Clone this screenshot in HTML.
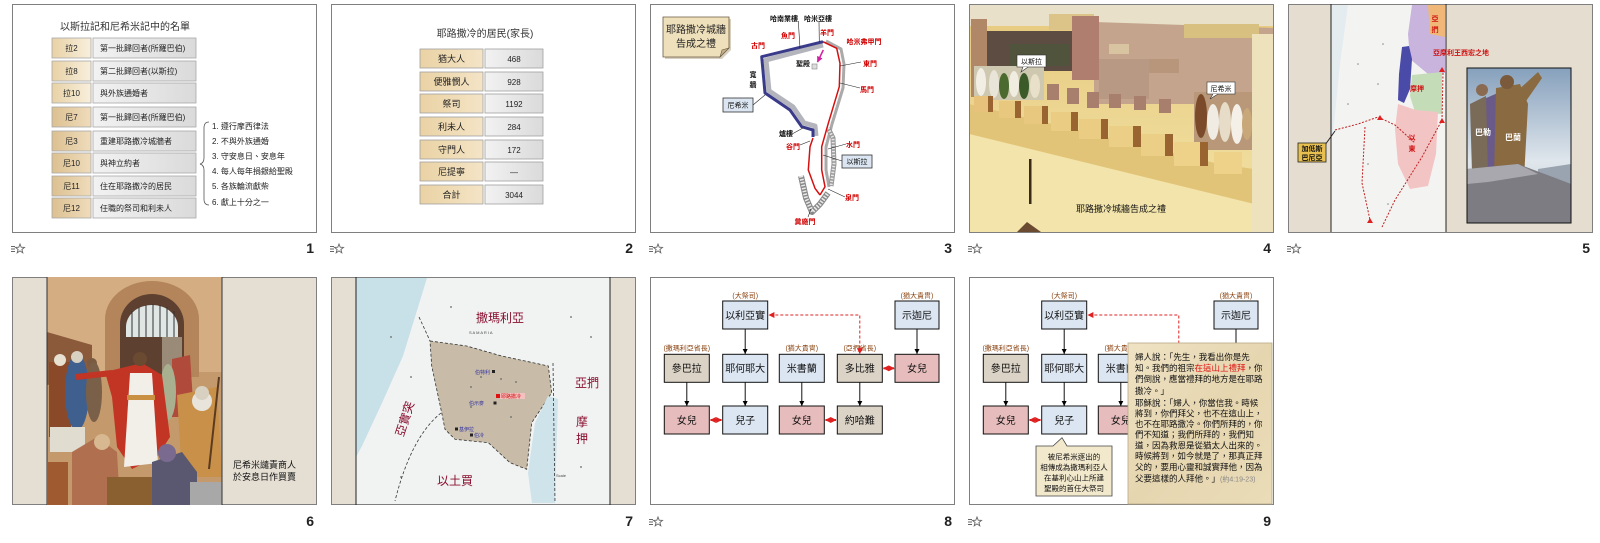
<!DOCTYPE html>
<html><head><meta charset="utf-8">
<style>
html,body{margin:0;padding:0;background:#fff;}
svg{display:block;}
text{font-family:"Liberation Sans","Noto Sans CJK TC",sans-serif;}
.num{font-family:"Liberation Sans",sans-serif;font-weight:bold;font-size:14px;fill:#222;}
</style></head>
<body>
<svg width="1600" height="543" viewBox="0 0 1600 543" xmlns="http://www.w3.org/2000/svg">
<defs>
<linearGradient id="gL1" x1="0" y1="0" x2="1" y2="0"><stop offset="0" stop-color="#e8d2a6"/><stop offset="1" stop-color="#f8efdc"/></linearGradient>
<linearGradient id="gL2" x1="0" y1="0" x2="1" y2="0"><stop offset="0" stop-color="#dcc090"/><stop offset="1" stop-color="#efdcbc"/></linearGradient>
<linearGradient id="gR" x1="0" y1="0" x2="1" y2="0"><stop offset="0" stop-color="#f2f2f2"/><stop offset="1" stop-color="#dadada"/></linearGradient>
<linearGradient id="gT" x1="0" y1="0" x2="1" y2="0"><stop offset="0" stop-color="#ead2a4"/><stop offset="1" stop-color="#f4e4c6"/></linearGradient>
<linearGradient id="sky5" x1="0" y1="0" x2="0" y2="1"><stop offset="0" stop-color="#86a0bc"/><stop offset="0.6" stop-color="#dfe6ec"/><stop offset="1" stop-color="#c8ccd0"/></linearGradient>
<linearGradient id="wall4" x1="0" y1="0" x2="0" y2="1"><stop offset="0" stop-color="#e6c97e"/><stop offset="1" stop-color="#f3e4a8"/></linearGradient>
<linearGradient id="parch" x1="0" y1="0" x2="1" y2="1"><stop offset="0" stop-color="#efe3c4"/><stop offset="0.5" stop-color="#e6d6b0"/><stop offset="1" stop-color="#eadcb8"/></linearGradient>
<marker id="ab" viewBox="0 0 10 10" refX="10" refY="5" markerWidth="5" markerHeight="5" orient="auto"><path d="M0,0 L10,5 L0,10 z" fill="#000"/></marker>
<marker id="ar" viewBox="0 0 10 10" refX="9" refY="5" markerWidth="3" markerHeight="3" orient="auto-start-reverse"><path d="M0,0 L10,5 L0,10 z" fill="#e02020"/></marker>
<marker id="ard" viewBox="0 0 10 10" refX="9" refY="5" markerWidth="6" markerHeight="6" orient="auto-start-reverse"><path d="M0,0 L10,5 L0,10 z" fill="#e02020"/></marker>
<marker id="ap" viewBox="0 0 10 10" refX="9" refY="5" markerWidth="4" markerHeight="4" orient="auto"><path d="M0,0 L10,5 L0,10 z" fill="#d020a0"/></marker>
<g id="star"><path d="M0,2.5 H4 M0,5 H4 M0,7.5 H4" stroke="#666" stroke-width="1"/><polygon points="9,0 10.2,3.2 13.5,3.4 10.9,5.5 11.8,8.8 9,6.9 6.2,8.8 7.1,5.5 4.5,3.4 7.8,3.2" fill="none" stroke="#666" stroke-width="0.9"/></g>
<clipPath id="c6"><rect x="35" y="0" width="175" height="228"/></clipPath>
<clipPath id="c5"><rect x="179" y="64" width="104" height="155"/></clipPath>
<clipPath id="cs"><rect x="0" y="0" width="305" height="228"/></clipPath>
</defs>

<!-- ================= SLIDE 1 ================= -->
<g transform="translate(12,4)">
<rect x="0.5" y="0.5" width="304" height="228" fill="#fff" stroke="#7f7f7f"/>
<text x="113" y="26" font-size="10" text-anchor="middle" fill="#333">以斯拉記和尼希米記中的名單</text>
<g stroke="#a8a8a8" stroke-width="0.8" font-size="8" fill="#222">
<rect x="40" y="34" width="39" height="20" fill="url(#gL1)"/><rect x="81" y="34" width="103" height="20" fill="url(#gR)"/>
<rect x="40" y="57" width="39" height="20" fill="url(#gL1)"/><rect x="81" y="57" width="103" height="20" fill="url(#gR)"/>
<rect x="40" y="79" width="39" height="20" fill="url(#gL1)"/><rect x="81" y="79" width="103" height="20" fill="url(#gR)"/>
<rect x="40" y="103" width="39" height="20" fill="url(#gL2)"/><rect x="81" y="103" width="103" height="20" fill="url(#gR)"/>
<rect x="40" y="127" width="39" height="20" fill="url(#gL2)"/><rect x="81" y="127" width="103" height="20" fill="url(#gR)"/>
<rect x="40" y="149" width="39" height="20" fill="url(#gL2)"/><rect x="81" y="149" width="103" height="20" fill="url(#gR)"/>
<rect x="40" y="172" width="39" height="20" fill="url(#gL2)"/><rect x="81" y="172" width="103" height="20" fill="url(#gR)"/>
<rect x="40" y="194" width="39" height="20" fill="url(#gL2)"/><rect x="81" y="194" width="103" height="20" fill="url(#gR)"/>
</g>
<g font-size="8" fill="#222">
<g text-anchor="middle">
<text x="59.5" y="47">拉2</text><text x="59.5" y="70">拉8</text><text x="59.5" y="92">拉10</text><text x="59.5" y="116">尼7</text>
<text x="59.5" y="140">尼3</text><text x="59.5" y="162">尼10</text><text x="59.5" y="185">尼11</text><text x="59.5" y="207">尼12</text>
</g>
<text x="88" y="47">第一批歸回者(所羅巴伯)</text>
<text x="88" y="70">第二批歸回者(以斯拉)</text>
<text x="88" y="92">與外族通婚者</text>
<text x="88" y="116">第一批歸回者(所羅巴伯)</text>
<text x="88" y="140">重建耶路撒冷城牆者</text>
<text x="88" y="162">與神立約者</text>
<text x="88" y="185">住在耶路撒冷的居民</text>
<text x="88" y="207">任職的祭司和利未人</text>
</g>
<path d="M197,118 Q192,118 192,124 L192,154 Q192,159 188,160 Q192,161 192,166 L192,195 Q192,201 197,201" stroke="#555" stroke-width="0.8" fill="none"/>
<g font-size="8" fill="#222">
<text x="200" y="125">1.  遵行摩西律法</text>
<text x="200" y="140">2.  不與外族通婚</text>
<text x="200" y="155">3.  守安息日、安息年</text>
<text x="200" y="170">4.  每人每年捐銀給聖殿</text>
<text x="200" y="185">5.  各族輪流獻柴</text>
<text x="200" y="201">6.  獻上十分之一</text>
</g>
</g>
<use href="#star" x="11" y="244"/>
<text class="num" x="314" y="253" text-anchor="end">1</text>

<!-- ================= SLIDE 2 ================= -->
<g transform="translate(331,4)">
<rect x="0.5" y="0.5" width="304" height="228" fill="#fff" stroke="#7f7f7f"/>
<text x="154" y="33" font-size="10" text-anchor="middle" fill="#333">耶路撒冷的居民(家長)</text>
<g stroke="#a0a0a0" stroke-width="0.8">
<rect x="89" y="45" width="63" height="19" fill="url(#gT)"/><rect x="154" y="45" width="58" height="19" fill="url(#gR)"/>
<rect x="89" y="68" width="63" height="19" fill="url(#gT)"/><rect x="154" y="68" width="58" height="19" fill="url(#gR)"/>
<rect x="89" y="90" width="63" height="19" fill="url(#gT)"/><rect x="154" y="90" width="58" height="19" fill="url(#gR)"/>
<rect x="89" y="113" width="63" height="19" fill="url(#gT)"/><rect x="154" y="113" width="58" height="19" fill="url(#gR)"/>
<rect x="89" y="136" width="63" height="19" fill="url(#gT)"/><rect x="154" y="136" width="58" height="19" fill="url(#gR)"/>
<rect x="89" y="158" width="63" height="19" fill="url(#gT)"/><rect x="154" y="158" width="58" height="19" fill="url(#gR)"/>
<rect x="89" y="181" width="63" height="19" fill="url(#gT)"/><rect x="154" y="181" width="58" height="19" fill="url(#gR)"/>
</g>
<g font-size="9" fill="#222" text-anchor="middle">
<text x="120.5" y="58">猶大人</text><text x="183" y="58" font-size="8">468</text>
<text x="120.5" y="81">便雅憫人</text><text x="183" y="81" font-size="8">928</text>
<text x="120.5" y="103">祭司</text><text x="183" y="103" font-size="8">1192</text>
<text x="120.5" y="126">利未人</text><text x="183" y="126" font-size="8">284</text>
<text x="120.5" y="149">守門人</text><text x="183" y="149" font-size="8">172</text>
<text x="120.5" y="171">尼提寧</text><text x="183" y="171" font-size="8">—</text>
<text x="120.5" y="194">合計</text><text x="183" y="194" font-size="8">3044</text>
</g>
</g>
<use href="#star" x="330" y="244"/>
<text class="num" x="633" y="253" text-anchor="end">2</text>

<!-- ================= SLIDE 3 ================= -->
<g transform="translate(650,4)">
<rect x="0.5" y="0.5" width="304" height="228" fill="#fff" stroke="#7f7f7f"/>
<path d="M15,15 H81 V46 L72,55 H15 Z" fill="#b0a080" opacity="0.5"/>
<path d="M13,13 H79 V44 L70,53 H13 Z" fill="#efe0bc" stroke="#6a5a40" stroke-width="0.8"/>
<path d="M70,53 L72,46 L79,44 Z" fill="#c4b088" stroke="#6a5a40" stroke-width="0.6"/>
<text x="46" y="29" font-size="10" text-anchor="middle" fill="#222">耶路撒冷城牆</text>
<text x="46" y="43" font-size="10" text-anchor="middle" fill="#222">告成之禮</text>
<!-- gray bands -->
<g fill="none" stroke-linejoin="round">
<path d="M173,41 L116,56 L119,87 L143,103 L154,119 L165,122 L166,132" stroke="#b4b4bc" stroke-width="5"/>
<path d="M176,37 L191,45 L194,60 L193,84 L182,120 L176,143 L176,166 L179,183" stroke="#aaa" stroke-width="3"/>
<path d="M178,124 L183,134 L184,160 L181,182" stroke="#999" stroke-width="5"/>
<path d="M178,124 L183,134 L184,160 L181,182" stroke="#e6e6e6" stroke-width="3" stroke-dasharray="1.5 1.5"/>
<path d="M151,172 L156,194 L162,208 L170,200 L178,189" stroke="#888" stroke-width="6"/>
<path d="M151,172 L156,194 L162,208 L170,200 L178,189" stroke="#eaeaea" stroke-width="4" stroke-dasharray="1.5 1.5"/>
<!-- blue wall -->
<path d="M173,37.7 L111.7,52.7 L115,89 L140,106 L151.7,122.7 L163,126 L163,133" stroke="#3a3a8a" stroke-width="3"/>
<!-- red walls -->
<path d="M173,37.7 L186.7,44.3 L190,59.3 L189.3,82.7 L178.3,119.3 L171.7,142.7 L171.7,166 L175,182.7 L170,191" stroke="#d41010" stroke-width="1.5"/>
<path d="M163,134 L160,142.7 L158.3,166 L165,184.3 L170,191" stroke="#d41010" stroke-width="1.5"/>
</g>
<line x1="173.3" y1="46" x2="167.5" y2="58" stroke="#d020a0" stroke-width="1.5" marker-end="url(#ap)"/>
<rect x="162" y="60" width="5" height="5" fill="#ddd" stroke="#888" stroke-width="0.6"/>
<!-- leader lines -->
<g stroke="#222" stroke-width="0.6">
<line x1="148.3" y1="17" x2="150" y2="44"/>
<line x1="169" y1="18" x2="169.3" y2="38"/>
<line x1="190" y1="62" x2="211" y2="58"/>
<line x1="190" y1="79" x2="210" y2="84"/>
<line x1="103" y1="101" x2="115" y2="91"/>
<line x1="143" y1="129.5" x2="153" y2="124"/>
<line x1="150" y1="141" x2="160" y2="137"/>
<line x1="178" y1="145" x2="196" y2="140"/>
<line x1="173" y1="151" x2="192" y2="157"/>
<line x1="178" y1="185" x2="195" y2="193"/>
<line x1="161" y1="205" x2="158" y2="213"/>
</g>
<g font-size="7" font-weight="bold" text-anchor="middle">
<text x="134" y="17" fill="#111">哈南業樓</text>
<text x="168" y="17" fill="#111">哈米亞樓</text>
<text x="138" y="34" fill="#d00000">魚門</text>
<text x="177" y="31" fill="#d00000">羊門</text>
<text x="214" y="40" fill="#d00000">哈米弗甲門</text>
<text x="108" y="44" fill="#d00000">古門</text>
<text x="153" y="62" fill="#111">聖殿</text>
<text x="220" y="62" fill="#d00000">東門</text>
<text x="217" y="88" fill="#d00000">馬門</text>
<text x="103" y="73" fill="#111">寬</text>
<text x="103" y="83" fill="#111">牆</text>
<text x="136" y="132" fill="#111">爐樓</text>
<text x="143" y="145" fill="#d00000">谷門</text>
<text x="203" y="143" fill="#d00000">水門</text>
<text x="202" y="196" fill="#d00000">泉門</text>
<text x="155" y="220" fill="#d00000">糞廠門</text>
</g>
<rect x="73" y="94" width="30" height="14" fill="#dbe6f2" stroke="#333" stroke-width="0.8"/>
<text x="88" y="103.5" font-size="7" text-anchor="middle" fill="#111">尼希米</text>
<rect x="192" y="151" width="30" height="13" fill="#dbe6f2" stroke="#333" stroke-width="0.8"/>
<text x="207" y="160" font-size="7" text-anchor="middle" fill="#111">以斯拉</text>
</g>
<use href="#star" x="649" y="244"/>
<text class="num" x="952" y="253" text-anchor="end">3</text>

<!-- ================= SLIDE 4 ================= -->
<g transform="translate(969,4)">
<g clip-path="url(#cs)">
<rect width="305" height="228" fill="url(#wall4)"/>
<rect x="0" y="0" width="305" height="22" fill="#e8e0c8"/>
<polygon points="125,18 305,24 305,100 125,100" fill="#c4a48c"/>
<rect x="215" y="20" width="75" height="14" fill="#d8c080"/>
<rect x="140" y="40" width="20" height="10" fill="#d8c4a0"/>
<rect x="180" y="55" width="30" height="14" fill="#b8967c"/>
<rect x="80" y="10" width="45" height="16" fill="#dcc488"/>
<rect x="12" y="27" width="95" height="40" fill="#5c4c42"/>
<rect x="40" y="40" width="60" height="22" fill="#4a5a38" opacity="0.6"/>
<rect x="2" y="15" width="16" height="78" fill="#b08868"/>
<rect x="103" y="12" width="27" height="64" fill="#b07e6e"/>
<rect x="130" y="55" width="50" height="40" fill="#b89a84"/>
<!-- back row merlons -->
<g fill="#a87e6c">
<rect x="78" y="80" width="12" height="16"/><rect x="98" y="84" width="12" height="16"/><rect x="118" y="88" width="12" height="16"/>
<rect x="140" y="90" width="12" height="14"/><rect x="165" y="92" width="12" height="14"/><rect x="190" y="95" width="12" height="14"/>
</g>
<!-- left crowd -->
<g>
<rect x="5" y="62" width="70" height="34" fill="#cfc8b0"/>
<ellipse cx="12" cy="78" rx="5" ry="14" fill="#f2eee4"/>
<ellipse cx="25" cy="80" rx="5" ry="14" fill="#e8e4d8"/>
<ellipse cx="35" cy="82" rx="5" ry="13" fill="#4a6a30"/>
<ellipse cx="45" cy="80" rx="5" ry="13" fill="#f0ece0"/>
<ellipse cx="55" cy="82" rx="5" ry="13" fill="#3a5a28"/>
<ellipse cx="66" cy="82" rx="5" ry="12" fill="#e8e0c8"/>
</g>
<!-- parapet band -->
<polygon points="0,100 250,160 285,165 285,200 0,130" fill="#e2c478"/>
<polygon points="0,130 285,200 285,228 0,228" fill="#f2e4aa"/>
<!-- right crowd -->
<g>
<rect x="225" y="88" width="58" height="58" fill="#b89878"/>
<ellipse cx="232" cy="112" rx="6" ry="22" fill="#7a4a2a"/>
<ellipse cx="244" cy="118" rx="6" ry="18" fill="#f0ece4"/>
<ellipse cx="256" cy="118" rx="6" ry="20" fill="#e6dcc8"/>
<ellipse cx="268" cy="120" rx="6" ry="20" fill="#f4f0e8"/>
<ellipse cx="278" cy="120" rx="5" ry="16" fill="#c8a878"/>
</g>
<!-- front merlons -->
<g>
<rect x="5" y="92" width="14" height="16" fill="#e6c27a"/><rect x="19" y="92" width="5" height="16" fill="#9a6430"/>
<rect x="30" y="97" width="16" height="17" fill="#e8c87e"/><rect x="46" y="97" width="6" height="17" fill="#9a6430"/>
<rect x="55" y="102" width="18" height="18" fill="#e8c87e"/><rect x="73" y="102" width="6" height="18" fill="#9a6430"/>
<rect x="82" y="108" width="20" height="19" fill="#eacc82"/><rect x="102" y="108" width="7" height="19" fill="#9a6430"/>
<rect x="110" y="115" width="22" height="20" fill="#eacc82"/><rect x="132" y="115" width="7" height="20" fill="#9a6430"/>
<rect x="140" y="122" width="24" height="21" fill="#eccf86"/><rect x="164" y="122" width="8" height="21" fill="#9a6430"/>
<rect x="172" y="130" width="24" height="22" fill="#eccf86"/><rect x="196" y="130" width="8" height="22" fill="#9a6430"/>
<rect x="205" y="138" width="26" height="24" fill="#eed28a"/><rect x="231" y="138" width="8" height="24" fill="#9a6430"/>
<rect x="245" y="148" width="28" height="22" fill="#eed28a"/>
</g>
<rect x="283" y="30" width="22" height="198" fill="#ede2bc"/>
<rect x="60" y="155" width="2.5" height="45" fill="#3a2a1a"/>
<polygon points="48,228 58,218 72,228" fill="#6a4a30"/>
</g>
<rect x="0.5" y="0.5" width="304" height="228" fill="none" stroke="#7f7f7f"/>
<rect x="48" y="51" width="29" height="12" fill="#fff" stroke="#333" stroke-width="0.6"/>
<path d="M54,63 L52,68 L59,63" fill="#fff" stroke="#333" stroke-width="0.6"/>
<text x="62.5" y="60" font-size="7" text-anchor="middle" fill="#111">以斯拉</text>
<rect x="238" y="78" width="28" height="12" fill="#fff" stroke="#333" stroke-width="0.6"/>
<path d="M244,90 L241,95 L249,90" fill="#fff" stroke="#333" stroke-width="0.6"/>
<text x="252" y="87" font-size="7" text-anchor="middle" fill="#111">尼希米</text>
<text x="152" y="208" font-size="9" text-anchor="middle" fill="#111">耶路撒冷城牆告成之禮</text>
</g>
<use href="#star" x="968" y="244"/>
<text class="num" x="1271" y="253" text-anchor="end">4</text>

<!-- ================= SLIDE 5 ================= -->
<g transform="translate(1288,4)">
<rect x="0.5" y="0.5" width="304" height="228" fill="#e4ddd0" stroke="#7f7f7f"/>
<rect x="43" y="1" width="115" height="227" fill="#f3f4f2"/>
<polygon points="43,1 60,1 52,60 46,120 43,140" fill="#e4ecf0"/>
<polygon points="124,1 157,1 157,69 140,70 122,55 120,30" fill="#c8b4dc"/>
<polygon points="140,1 157,1 157,33 142,30" fill="#f0b878"/>
<polygon points="124,71 154,68 154,110 127,108 122,92" fill="#c4dcb8"/>
<polygon points="110,100 128,106 150,108 148,150 140,182 122,185 110,160 107,125" fill="#f2c4c4"/>
<polygon points="114,43 121,42 124,55 122,85 116,99 110,96 111,70" fill="#4a4aa8"/>
<g fill="none" stroke="#c02020" stroke-width="1" stroke-dasharray="2 1.5">
<polyline points="47,126 70,120 90,113 107,121 127,139"/>
<polyline points="77,123 74,179 82,216"/>
<polyline points="155,69 154,116 134,153 107,196 94,223"/>
</g>
<g fill="#e02020">
<polygon points="92,111 95,116 89,116"/><polygon points="154,114 157,119 151,119"/><polygon points="82,214 85,219 79,219"/><polygon points="154,63 157,68 151,68"/>
</g>
<g fill="#888"><circle cx="70" cy="60" r="0.8"/><circle cx="90" cy="80" r="0.8"/><circle cx="80" cy="160" r="0.8"/><circle cx="60" cy="100" r="0.8"/><circle cx="100" cy="200" r="0.8"/><circle cx="95" cy="40" r="0.8"/></g>
<line x1="43" y1="0" x2="43" y2="228" stroke="#222" stroke-width="1"/>
<line x1="158" y1="0" x2="158" y2="228" stroke="#222" stroke-width="1"/>
<line x1="37" y1="141" x2="47" y2="127" stroke="#222" stroke-width="1"/>
<rect x="10" y="139" width="28" height="19" fill="#e8c050" stroke="#222" stroke-width="0.8"/>
<text x="24" y="147" font-size="7" text-anchor="middle" fill="#111" font-weight="bold">加低斯</text>
<text x="24" y="156" font-size="7" text-anchor="middle" fill="#111" font-weight="bold">巴尼亞</text>
<g font-size="7" font-weight="bold" fill="#d01010">
<text x="147" y="17" text-anchor="middle">亞</text><text x="147" y="28" text-anchor="middle">捫</text>
<text x="145" y="51">亞摩利王西宏之地</text>
<text x="129" y="87" text-anchor="middle">摩押</text>
<text x="124" y="136" text-anchor="middle">以</text><text x="124" y="147" text-anchor="middle">東</text>
</g>
<g clip-path="url(#c5)">
<rect x="179" y="64" width="104" height="155" fill="url(#sky5)"/>
<polygon points="250,165 283,160 283,185 250,185" fill="#9aa4b0"/>
<polygon points="196,95 212,88 214,170 196,170" fill="#6a5a8a"/>
<polygon points="182,100 198,92 200,168 184,168" fill="#7a6a58"/>
<polygon points="208,84 232,80 240,100 236,175 206,175" fill="#8a6a40"/>
<polygon points="226,90 250,68 254,74 236,100" fill="#8a6a40"/>
<circle cx="194" cy="86" r="6" fill="#8a6a50"/>
<circle cx="219" cy="78" r="7" fill="#7a5a3a"/>
<polygon points="179,165 230,160 270,175 283,180 283,219 179,219" fill="#7c7c82"/>
<polygon points="179,165 230,160 250,170 200,178 179,180" fill="#a8a8ae"/>
</g>
<rect x="179" y="64" width="104" height="155" fill="none" stroke="#111" stroke-width="1"/>
<text x="195" y="131" font-size="8" fill="#fff" text-anchor="middle" font-weight="bold">巴勒</text>
<text x="225" y="136" font-size="8" fill="#fff" text-anchor="middle" font-weight="bold">巴蘭</text>
</g>
<use href="#star" x="1287" y="244"/>
<text class="num" x="1590" y="253" text-anchor="end">5</text>

<!-- ================= SLIDE 6 ================= -->
<g transform="translate(12,277)">
<rect x="0.5" y="0.5" width="304" height="227" fill="#e4ded3" stroke="#7f7f7f"/>
<g clip-path="url(#c6)">
<rect x="35" y="0" width="175" height="228" fill="#c49a6c"/>
<rect x="35" y="0" width="175" height="95" fill="#d4ae82"/>
<path d="M93,100 V42 A47,38 0 0 1 187,42 V100 Z" fill="#b4855a"/>
<path d="M108,100 V47 A32,30 0 0 1 172,47 V100 Z" fill="#5e4030"/>
<path d="M114,50 A26,22 0 0 1 166,50 V60 H114 Z" fill="#dfe6e4"/>
<g stroke="#333" stroke-width="1"><line x1="120" y1="34" x2="120" y2="60"/><line x1="127" y1="30" x2="127" y2="60"/><line x1="134" y1="28" x2="134" y2="60"/><line x1="141" y1="27" x2="141" y2="60"/><line x1="148" y1="28" x2="148" y2="60"/><line x1="155" y1="30" x2="155" y2="60"/><line x1="162" y1="34" x2="162" y2="60"/></g>
<rect x="150" y="60" width="20" height="40" fill="#9a8a78"/>
<polygon points="35,55 80,68 80,100 35,108" fill="#8a5a3a"/>
<rect x="37" y="85" width="22" height="75" fill="#8a4a2a"/>
<ellipse cx="65" cy="115" rx="12" ry="38" fill="#3f5f8f"/>
<circle cx="48" cy="83" r="6" fill="#e8e0d0"/><circle cx="65" cy="80" r="6" fill="#d8d0c0"/><circle cx="80" cy="86" r="5" fill="#7a5a40"/>
<ellipse cx="82" cy="115" rx="8" ry="30" fill="#7a6048"/>
<polygon points="160,82 178,78 182,140 160,140" fill="#b04a3a"/>
<ellipse cx="156" cy="115" rx="8" ry="28" fill="#a8b090"/>
<polygon points="93,95 130,86 150,98 158,160 145,180 120,192 105,170 100,120" fill="#c23424"/>
<polygon points="118,96 140,96 146,186 112,190" fill="#f2eee8"/>
<rect x="115" y="118" width="28" height="5" fill="#c89040"/>
<line x1="100" y1="96" x2="64" y2="100" stroke="#c23424" stroke-width="6"/>
<circle cx="128" cy="82" r="7" fill="#6a4a30"/>
<polygon points="165,118 205,110 210,200 170,200" fill="#c89048"/>
<circle cx="190" cy="124" r="10" fill="#e8e4dc"/>
<circle cx="190" cy="116" r="7" fill="#d8d0c0"/>
<line x1="207" y1="100" x2="197" y2="192" stroke="#5a3a20" stroke-width="2"/>
<rect x="38" y="150" width="35" height="25" fill="#e0dcd0"/>
<rect x="36" y="185" width="20" height="43" fill="#a05a30"/>
<polygon points="60,175 85,160 105,175 108,228 60,228" fill="#b07050"/>
<circle cx="90" cy="165" r="8" fill="#d8b890"/>
<rect x="95" y="200" width="50" height="28" fill="#8a6030"/>
<polygon points="140,185 170,175 185,195 185,228 140,228" fill="#5a5870"/>
<circle cx="155" cy="176" r="9" fill="#7a6a90"/>
<rect x="178" y="205" width="32" height="23" fill="#a8a8a8"/>
</g>
<line x1="35" y1="0" x2="35" y2="228" stroke="#333" stroke-width="1"/>
<line x1="210" y1="0" x2="210" y2="228" stroke="#333" stroke-width="1"/>
<text x="221" y="191" font-size="9" fill="#111">尼希米譴責商人</text>
<text x="221" y="203" font-size="9" fill="#111">於安息日作買賣</text>
</g>
<text class="num" x="314" y="526" text-anchor="end">6</text>

<!-- ================= SLIDE 7 ================= -->
<g transform="translate(331,277)">
<rect x="0.5" y="0.5" width="304" height="227" fill="#e4ded3" stroke="#7f7f7f"/>
<rect x="25" y="1" width="254" height="226" fill="#f1f3f3"/>
<polygon points="25,1 96,1 72,79 51,126 31,169 25,180" fill="#c8e0e8"/>
<polygon points="99,64 135.7,69 170.7,79 217.3,89 220.7,115.7 200.7,145.7 195.7,192.3 179,185.7 157.3,165.7 124,162.3 114,152.3 110.7,135.7 100.7,89" fill="#c8bca8" stroke="#333" stroke-width="0.8" stroke-dasharray="3 2"/>
<polygon points="217,119 227,122 224,226 201,226 197,196 204,146" fill="#cfe3ea"/>
<g fill="none" stroke="#333" stroke-width="0.8" stroke-dasharray="3 2">
<path d="M110,136 Q80,160 64,224"/>
<path d="M222,86 L224,226"/>
<path d="M88,40 Q95,55 99,64"/>
</g>
<g fill="#666">
<circle cx="60" cy="60" r="0.9"/><circle cx="80" cy="100" r="0.9"/><circle cx="140" cy="110" r="0.9"/><circle cx="150" cy="100" r="0.9"/><circle cx="170" cy="102" r="0.9"/><circle cx="185" cy="105" r="0.9"/><circle cx="240" cy="40" r="0.9"/><circle cx="260" cy="60" r="0.9"/><circle cx="250" cy="190" r="0.9"/><circle cx="70" cy="200" r="0.9"/><circle cx="120" cy="30" r="0.9"/><circle cx="140" cy="130" r="0.9"/><circle cx="180" cy="140" r="0.9"/>
</g>
<g font-size="4" fill="#444"><text x="138" y="57">S A M A R I A</text><text x="225" y="200">Scale</text></g>
<line x1="25" y1="0" x2="25" y2="228" stroke="#222" stroke-width="1"/>
<line x1="279" y1="0" x2="279" y2="228" stroke="#222" stroke-width="1"/>
<g font-size="12" fill="#8a1030" text-anchor="middle">
<text x="169" y="45">撒瑪利亞</text>
<text x="256" y="110">亞捫</text>
<text x="251" y="149">摩</text><text x="251" y="166">押</text>
<text x="124" y="208">以土買</text>
<text x="74" y="146" transform="rotate(-72 74 142)">亞實突</text>
</g>
<g fill="#222"><rect x="161" y="93" width="3" height="3"/><rect x="162.5" y="124.5" width="3" height="3"/><rect x="124" y="150.5" width="3" height="3"/><rect x="139" y="156.5" width="3" height="3"/></g>
<rect x="165" y="117" width="4" height="4" fill="#e01010"/>
<rect x="169" y="116" width="25" height="6" fill="#f4c0c0"/>
<g font-size="5" fill="#3030a0">
<text x="144" y="97">伯特利</text><text x="138" y="128">伯示麥</text><text x="128" y="154">基伊拉</text><text x="143" y="160">伯冷</text>
</g>
<text x="170" y="121" font-size="5" fill="#d01010">耶路撒冷</text>
</g>
<text class="num" x="633" y="526" text-anchor="end">7</text>

<!-- ================= SLIDE 8 ================= -->
<g transform="translate(650,277)">
<rect x="0.5" y="0.5" width="304" height="227" fill="#fff" stroke="#7f7f7f"/>
<g font-size="7" fill="#8b4513" text-anchor="middle">
<text x="95.2" y="21">(大祭司)</text><text x="267" y="21">(猶大貴冑)</text>
<text x="36.8" y="73.5">(撒瑪利亞省長)</text><text x="151.8" y="73.5">(猶大貴冑)</text><text x="209.8" y="73.5">(亞捫省長)</text>
</g>
<g stroke="#111" stroke-width="1">
<rect x="72.7" y="24" width="45" height="28" fill="#dce6f2"/>
<rect x="245" y="24" width="44" height="28" fill="#dce6f2"/>
<rect x="14.3" y="77.3" width="45" height="28" fill="#dbd3c6"/>
<rect x="72.7" y="77.3" width="45" height="28" fill="#dce6f2"/>
<rect x="129.3" y="77.3" width="45" height="28" fill="#dce6f2"/>
<rect x="187.3" y="77.3" width="45" height="28" fill="#dbd3c6"/>
<rect x="245" y="77.3" width="44" height="28" fill="#e6bcbc"/>
<rect x="14.3" y="129" width="45" height="28" fill="#e6bcbc"/>
<rect x="72.7" y="129" width="45" height="28" fill="#dce6f2"/>
<rect x="129.3" y="129" width="45" height="28" fill="#e6bcbc"/>
<rect x="187.3" y="129" width="45" height="28" fill="#dbd3c6"/>
</g>
<g font-size="10" fill="#111" text-anchor="middle">
<text x="95.2" y="42">以利亞實</text><text x="267" y="42">示迦尼</text>
<text x="36.8" y="95">參巴拉</text><text x="95.2" y="95">耶何耶大</text><text x="151.8" y="95">米書蘭</text><text x="209.8" y="95">多比雅</text><text x="267" y="95">女兒</text>
<text x="36.8" y="147">女兒</text><text x="95.2" y="147">兒子</text><text x="151.8" y="147">女兒</text><text x="209.8" y="147">約哈難</text>
</g>
<g stroke="#111" stroke-width="1" marker-end="url(#ab)">
<line x1="95.2" y1="52" x2="95.2" y2="77"/><line x1="267" y1="52" x2="267" y2="77"/>
<line x1="36.8" y1="105.3" x2="36.8" y2="129"/><line x1="95.2" y1="105.3" x2="95.2" y2="129"/><line x1="151.8" y1="105.3" x2="151.8" y2="129"/><line x1="209.8" y1="105.3" x2="209.8" y2="129"/>
</g>
<g stroke="#e02020" stroke-width="2" marker-start="url(#ar)" marker-end="url(#ar)">
<line x1="60.5" y1="143" x2="71.5" y2="143"/><line x1="175.5" y1="143" x2="186" y2="143"/><line x1="233.5" y1="91.3" x2="244" y2="91.3"/>
</g>
<path d="M209.8,76.5 V38 H119" fill="none" stroke="#e02020" stroke-width="1" stroke-dasharray="3 2" marker-start="url(#ard)" marker-end="url(#ard)"/>
</g>
<use href="#star" x="649" y="517"/>
<text class="num" x="952" y="526" text-anchor="end">8</text>

<!-- ================= SLIDE 9 ================= -->
<g transform="translate(969,277)">
<rect x="0.5" y="0.5" width="304" height="227" fill="#fff" stroke="#7f7f7f"/>
<g font-size="7" fill="#8b4513" text-anchor="middle">
<text x="95.2" y="21">(大祭司)</text><text x="267" y="21">(猶大貴冑)</text>
<text x="36.8" y="73.5">(撒瑪利亞省長)</text><text x="151.8" y="73.5">(猶大貴冑)</text><text x="209.8" y="73.5">(亞捫省長)</text>
</g>
<g stroke="#111" stroke-width="1">
<rect x="72.7" y="24" width="45" height="28" fill="#dce6f2"/>
<rect x="245" y="24" width="44" height="28" fill="#dce6f2"/>
<rect x="14.3" y="77.3" width="45" height="28" fill="#dbd3c6"/>
<rect x="72.7" y="77.3" width="45" height="28" fill="#dce6f2"/>
<rect x="129.3" y="77.3" width="45" height="28" fill="#dce6f2"/>
<rect x="187.3" y="77.3" width="45" height="28" fill="#dbd3c6"/>
<rect x="245" y="77.3" width="44" height="28" fill="#e6bcbc"/>
<rect x="14.3" y="129" width="45" height="28" fill="#e6bcbc"/>
<rect x="72.7" y="129" width="45" height="28" fill="#dce6f2"/>
<rect x="129.3" y="129" width="45" height="28" fill="#e6bcbc"/>
<rect x="187.3" y="129" width="45" height="28" fill="#dbd3c6"/>
</g>
<g font-size="10" fill="#111" text-anchor="middle">
<text x="95.2" y="42">以利亞實</text><text x="267" y="42">示迦尼</text>
<text x="36.8" y="95">參巴拉</text><text x="95.2" y="95">耶何耶大</text><text x="151.8" y="95">米書蘭</text><text x="209.8" y="95">多比雅</text><text x="267" y="95">女兒</text>
<text x="36.8" y="147">女兒</text><text x="95.2" y="147">兒子</text><text x="151.8" y="147">女兒</text><text x="209.8" y="147">約哈難</text>
</g>
<g stroke="#111" stroke-width="1" marker-end="url(#ab)">
<line x1="95.2" y1="52" x2="95.2" y2="77"/><line x1="267" y1="52" x2="267" y2="77"/>
<line x1="36.8" y1="105.3" x2="36.8" y2="129"/><line x1="95.2" y1="105.3" x2="95.2" y2="129"/><line x1="151.8" y1="105.3" x2="151.8" y2="129"/><line x1="209.8" y1="105.3" x2="209.8" y2="129"/>
</g>
<g stroke="#e02020" stroke-width="2" marker-start="url(#ar)" marker-end="url(#ar)">
<line x1="60.5" y1="143" x2="71.5" y2="143"/><line x1="175.5" y1="143" x2="186" y2="143"/><line x1="233.5" y1="91.3" x2="244" y2="91.3"/>
</g>
<path d="M209.8,76.5 V38 H119" fill="none" stroke="#e02020" stroke-width="1" stroke-dasharray="3 2" marker-start="url(#ard)" marker-end="url(#ard)"/>
<!-- parchment overlay -->
<rect x="159" y="66" width="144" height="161" fill="url(#parch)" stroke="#b8a888" stroke-width="0.8"/>
<g font-size="8.5" fill="#111">
<text x="166" y="83">婦人說：「先生，我看出你是先</text>
<text x="166" y="94">知。我們的祖宗<tspan fill="#e01010">在這山上禮拜</tspan>，你</text>
<text x="166" y="105">們倒說，應當禮拜的地方是在耶路</text>
<text x="166" y="117">撒冷。」</text>
<text x="166" y="129">耶穌說：「婦人，你當信我。時候</text>
<text x="166" y="139.5">將到，你們拜父，也不在這山上，</text>
<text x="166" y="150">也不在耶路撒冷。你們所拜的，你</text>
<text x="166" y="160.5">們不知道；我們所拜的，我們知</text>
<text x="166" y="171.5">道，因為救恩是從猶太人出來的。</text>
<text x="166" y="182">時候將到，如今就是了，那真正拜</text>
<text x="166" y="193">父的，要用心靈和誠實拜他，因為</text>
<text x="166" y="204.5">父要這樣的人拜他。」<tspan fill="#888" font-size="7">(約4:19-23)</tspan></text>
</g>
<!-- small callout -->
<path d="M67,169 H84 L93,160.7 L98,169 H143 V219 H67 Z" fill="#f2e8cc" stroke="#444" stroke-width="0.8"/>
<g font-size="7.5" fill="#111" text-anchor="middle">
<text x="105" y="182.5">被尼希米逐出的</text>
<text x="105" y="193">相傳成為撒瑪利亞人</text>
<text x="105" y="203.5">在基利心山上所建</text>
<text x="105" y="214">聖殿的首任大祭司</text>
</g>
</g>
<use href="#star" x="968" y="517"/>
<text class="num" x="1271" y="526" text-anchor="end">9</text>
</svg>
</body></html>
